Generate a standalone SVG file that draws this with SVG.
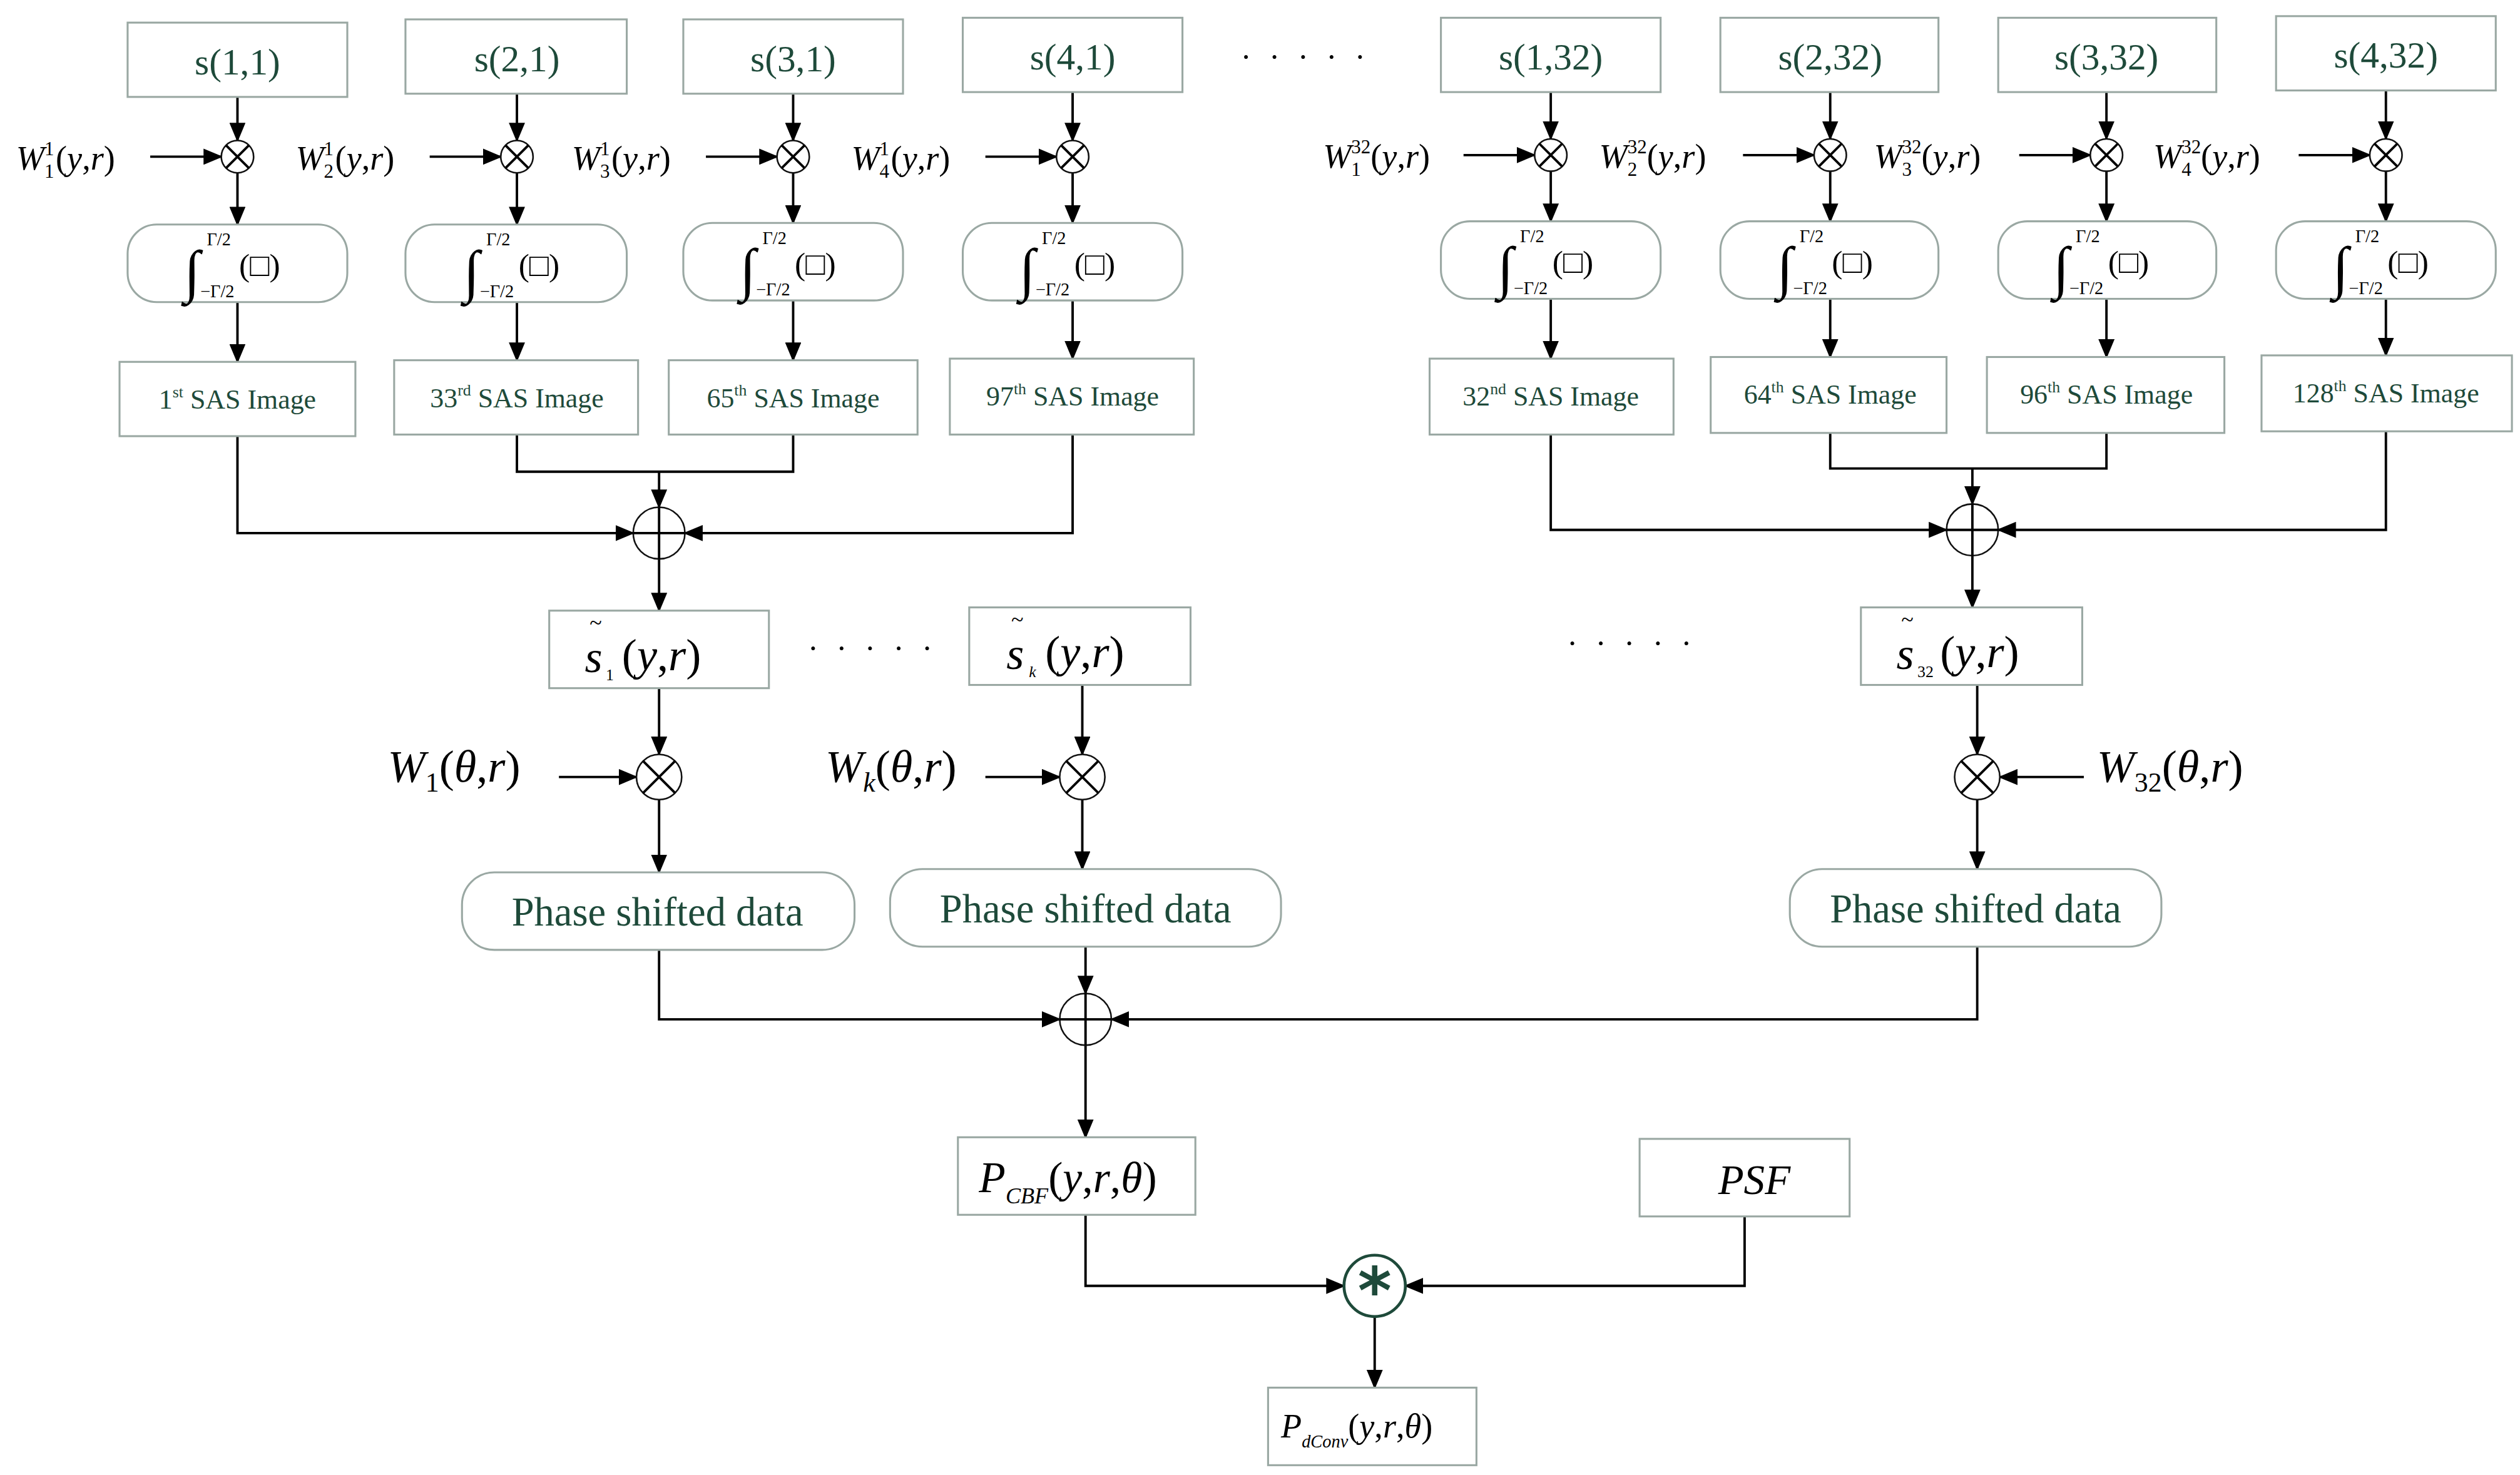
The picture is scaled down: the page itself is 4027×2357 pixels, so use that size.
<svg xmlns="http://www.w3.org/2000/svg" width="4027" height="2357" viewBox="0 0 4027 2357">
<style>
.b{fill:#fff;stroke:#9aa8a3;stroke-width:1.2}
.c{fill:#fff;stroke:#111;stroke-width:1}
.l{fill:none;stroke:#000;stroke-width:1.5}
.g{font-family:"Liberation Serif",serif;fill:#1e4a3a}
.m{font-family:"Liberation Serif",serif;fill:#000}
.i{font-style:italic}
</style>
<defs>
<marker id="a" markerUnits="userSpaceOnUse" markerWidth="12" markerHeight="10" refX="11" refY="5" orient="auto"><path d="M0,0L12,5L0,10z" fill="#000"/></marker>
</defs>
<rect width="4027" height="2357" fill="#fff"/>
<g transform="scale(2.5814)">
<g id="connectors">
<path class="l" marker-end="url(#a)" d="M147,60V87"/><path class="l" marker-end="url(#a)" d="M320,58V87"/><path class="l" marker-end="url(#a)" d="M491,58V87"/><path class="l" marker-end="url(#a)" d="M664,57V87"/>
<path class="l" marker-end="url(#a)" d="M960,57V86"/><path class="l" marker-end="url(#a)" d="M1133,57V86"/><path class="l" marker-end="url(#a)" d="M1304,57V86"/><path class="l" marker-end="url(#a)" d="M1477,56V86"/>
<path class="l" marker-end="url(#a)" d="M93,97H137"/><path class="l" marker-end="url(#a)" d="M266,97H310"/><path class="l" marker-end="url(#a)" d="M437,97H481"/><path class="l" marker-end="url(#a)" d="M610,97H654"/>
<path class="l" marker-end="url(#a)" d="M906,96H950"/><path class="l" marker-end="url(#a)" d="M1079,96H1123"/><path class="l" marker-end="url(#a)" d="M1250,96H1294"/><path class="l" marker-end="url(#a)" d="M1423,96H1467"/>
<path class="l" marker-end="url(#a)" d="M147,107V139"/><path class="l" marker-end="url(#a)" d="M320,107V139"/><path class="l" marker-end="url(#a)" d="M491,107V138"/><path class="l" marker-end="url(#a)" d="M664,107V138"/>
<path class="l" marker-end="url(#a)" d="M960,106V137"/><path class="l" marker-end="url(#a)" d="M1133,106V137"/><path class="l" marker-end="url(#a)" d="M1304,106V137"/><path class="l" marker-end="url(#a)" d="M1477,106V137"/>
<path class="l" marker-end="url(#a)" d="M147,187V224"/><path class="l" marker-end="url(#a)" d="M320,187V223"/><path class="l" marker-end="url(#a)" d="M491,186V223"/><path class="l" marker-end="url(#a)" d="M664,186V222"/>
<path class="l" marker-end="url(#a)" d="M960,185V222"/><path class="l" marker-end="url(#a)" d="M1133,185V221"/><path class="l" marker-end="url(#a)" d="M1304,185V221"/><path class="l" marker-end="url(#a)" d="M1477,185V220"/>
<path class="l" marker-end="url(#a)" d="M147,270V330H392"/>
<path class="l" marker-end="url(#a)" d="M664,269V330H424"/>
<path class="l" d="M320,269V292H491V269"/>
<path class="l" marker-end="url(#a)" d="M408,292V314"/>
<path class="l" marker-end="url(#a)" d="M408,346V378"/>
<path class="l" marker-end="url(#a)" d="M960,269V328H1205"/>
<path class="l" marker-end="url(#a)" d="M1477,267V328H1237"/>
<path class="l" d="M1133,268V290H1304V268"/>
<path class="l" marker-end="url(#a)" d="M1221,290V312"/>
<path class="l" marker-end="url(#a)" d="M1221,344V376"/>
<path class="l" marker-end="url(#a)" d="M408,426V467"/><path class="l" marker-end="url(#a)" d="M670,424V467"/><path class="l" marker-end="url(#a)" d="M1224,424V467"/>
<path class="l" marker-end="url(#a)" d="M346,481H394"/><path class="l" marker-end="url(#a)" d="M610,481H656"/>
<path class="l" marker-end="url(#a)" d="M1290,481H1238"/>
<path class="l" marker-end="url(#a)" d="M408,495V540"/><path class="l" marker-end="url(#a)" d="M670,495V538"/><path class="l" marker-end="url(#a)" d="M1224,495V538"/>
<path class="l" marker-end="url(#a)" d="M408,588V631H656"/>
<path class="l" marker-end="url(#a)" d="M1224,586V631H688"/>
<path class="l" marker-end="url(#a)" d="M672,586V615"/>
<path class="l" marker-end="url(#a)" d="M672,647V704"/>
<path class="l" marker-end="url(#a)" d="M672,752V796H832"/>
<path class="l" marker-end="url(#a)" d="M1080,753V796H870"/>
<path class="l" marker-end="url(#a)" d="M851,815V859"/>
</g>
<g id="s11"><rect class="b" x="79" y="14" width="136" height="46"/><text class="g" x="147" y="46" font-size="23" text-anchor="middle">s(1,1)</text></g>
<g id="s21"><rect class="b" x="251" y="12" width="137" height="46"/><text class="g" x="320" y="44" font-size="23" text-anchor="middle">s(2,1)</text></g>
<g id="s31"><rect class="b" x="423" y="12" width="136" height="46"/><text class="g" x="491" y="44" font-size="23" text-anchor="middle">s(3,1)</text></g>
<g id="s41"><rect class="b" x="596" y="11" width="136" height="46"/><text class="g" x="664" y="43" font-size="23" text-anchor="middle">s(4,1)</text></g>
<g id="s132"><rect class="b" x="892" y="11" width="136" height="46"/><text class="g" x="960" y="43" font-size="23" text-anchor="middle">s(1,32)</text></g>
<g id="s232"><rect class="b" x="1065" y="11" width="135" height="46"/><text class="g" x="1133" y="43" font-size="23" text-anchor="middle">s(2,32)</text></g>
<g id="s332"><rect class="b" x="1237" y="11" width="135" height="46"/><text class="g" x="1304" y="43" font-size="23" text-anchor="middle">s(3,32)</text></g>
<g id="s432"><rect class="b" x="1409" y="10" width="136" height="46"/><text class="g" x="1477" y="42" font-size="23" text-anchor="middle">s(4,32)</text></g>
<text class="m" x="768" y="42" font-size="20" letter-spacing="3">· · · · ·</text>
<g id="mults" class="m">
<g><circle class="c" cx="147" cy="97" r="10"/><path class="l" stroke-width="1" d="M140,90L154,104M154,90L140,104"/></g>
<g><circle class="c" cx="320" cy="97" r="10"/><path class="l" stroke-width="1" d="M313,90L327,104M327,90L313,104"/></g>
<g><circle class="c" cx="491" cy="97" r="10"/><path class="l" stroke-width="1" d="M484,90L498,104M498,90L484,104"/></g>
<g><circle class="c" cx="664" cy="97" r="10"/><path class="l" stroke-width="1" d="M657,90L671,104M671,90L657,104"/></g>
<g><circle class="c" cx="960" cy="96" r="10"/><path class="l" stroke-width="1" d="M953,89L967,103M967,89L953,103"/></g>
<g><circle class="c" cx="1133" cy="96" r="10"/><path class="l" stroke-width="1" d="M1126,89L1140,103M1140,89L1126,103"/></g>
<g><circle class="c" cx="1304" cy="96" r="10"/><path class="l" stroke-width="1" d="M1297,89L1311,103M1311,89L1297,103"/></g>
<g><circle class="c" cx="1477" cy="96" r="10"/><path class="l" stroke-width="1" d="M1470,89L1484,103M1484,89L1470,103"/></g>
</g>
<g class="m" font-size="21">
<text x="10" y="105"><tspan class="i">W</tspan><tspan font-size="12" dy="-9">1</tspan><tspan font-size="12" dx="-6" dy="14">1</tspan><tspan dx="1" dy="-5">(</tspan><tspan class="i">y</tspan>,<tspan class="i">r</tspan>)</text>
<text x="183" y="105"><tspan class="i">W</tspan><tspan font-size="12" dy="-9">1</tspan><tspan font-size="12" dx="-6" dy="14">2</tspan><tspan dx="1" dy="-5">(</tspan><tspan class="i">y</tspan>,<tspan class="i">r</tspan>)</text>
<text x="354" y="105"><tspan class="i">W</tspan><tspan font-size="12" dy="-9">1</tspan><tspan font-size="12" dx="-6" dy="14">3</tspan><tspan dx="1" dy="-5">(</tspan><tspan class="i">y</tspan>,<tspan class="i">r</tspan>)</text>
<text x="527" y="105"><tspan class="i">W</tspan><tspan font-size="12" dy="-9">1</tspan><tspan font-size="12" dx="-6" dy="14">4</tspan><tspan dx="1" dy="-5">(</tspan><tspan class="i">y</tspan>,<tspan class="i">r</tspan>)</text>
<text x="819" y="104"><tspan class="i">W</tspan><tspan font-size="12" dy="-9">32</tspan><tspan font-size="12" dx="-12" dy="14">1</tspan><tspan dx="6" dy="-5">(</tspan><tspan class="i">y</tspan>,<tspan class="i">r</tspan>)</text>
<text x="990" y="104"><tspan class="i">W</tspan><tspan font-size="12" dy="-9">32</tspan><tspan font-size="12" dx="-12" dy="14">2</tspan><tspan dx="6" dy="-5">(</tspan><tspan class="i">y</tspan>,<tspan class="i">r</tspan>)</text>
<text x="1160" y="104"><tspan class="i">W</tspan><tspan font-size="12" dy="-9">32</tspan><tspan font-size="12" dx="-12" dy="14">3</tspan><tspan dx="6" dy="-5">(</tspan><tspan class="i">y</tspan>,<tspan class="i">r</tspan>)</text>
<text x="1333" y="104"><tspan class="i">W</tspan><tspan font-size="12" dy="-9">32</tspan><tspan font-size="12" dx="-12" dy="14">4</tspan><tspan dx="6" dy="-5">(</tspan><tspan class="i">y</tspan>,<tspan class="i">r</tspan>)</text>
</g>
<g id="integrals" class="m">
<g><rect class="b" x="79" y="139" width="136" height="48" rx="18"/><text x="114" y="180" font-size="36">∫</text><text x="128" y="152" font-size="11">Γ/2</text><text x="124" y="184" font-size="11">−Γ/2</text><text x="148" y="171" font-size="20">(□)</text></g>
<g><rect class="b" x="251" y="139" width="137" height="48" rx="18"/><text x="287" y="180" font-size="36">∫</text><text x="301" y="152" font-size="11">Γ/2</text><text x="297" y="184" font-size="11">−Γ/2</text><text x="321" y="171" font-size="20">(□)</text></g>
<g><rect class="b" x="423" y="138" width="136" height="48" rx="18"/><text x="458" y="179" font-size="36">∫</text><text x="472" y="151" font-size="11">Γ/2</text><text x="468" y="183" font-size="11">−Γ/2</text><text x="492" y="170" font-size="20">(□)</text></g>
<g><rect class="b" x="596" y="138" width="136" height="48" rx="18"/><text x="631" y="179" font-size="36">∫</text><text x="645" y="151" font-size="11">Γ/2</text><text x="641" y="183" font-size="11">−Γ/2</text><text x="665" y="170" font-size="20">(□)</text></g>
<g><rect class="b" x="892" y="137" width="136" height="48" rx="18"/><text x="927" y="178" font-size="36">∫</text><text x="941" y="150" font-size="11">Γ/2</text><text x="937" y="182" font-size="11">−Γ/2</text><text x="961" y="169" font-size="20">(□)</text></g>
<g><rect class="b" x="1065" y="137" width="135" height="48" rx="18"/><text x="1100" y="178" font-size="36">∫</text><text x="1114" y="150" font-size="11">Γ/2</text><text x="1110" y="182" font-size="11">−Γ/2</text><text x="1134" y="169" font-size="20">(□)</text></g>
<g><rect class="b" x="1237" y="137" width="135" height="48" rx="18"/><text x="1271" y="178" font-size="36">∫</text><text x="1285" y="150" font-size="11">Γ/2</text><text x="1281" y="182" font-size="11">−Γ/2</text><text x="1305" y="169" font-size="20">(□)</text></g>
<g><rect class="b" x="1409" y="137" width="136" height="48" rx="18"/><text x="1444" y="178" font-size="36">∫</text><text x="1458" y="150" font-size="11">Γ/2</text><text x="1454" y="182" font-size="11">−Γ/2</text><text x="1478" y="169" font-size="20">(□)</text></g>
</g>
<g class="g" font-size="17" text-anchor="middle">
<g id="sas1"><rect class="b" x="74" y="224" width="146" height="46"/><text x="147" y="253">1<tspan font-size="10" dy="-7">st</tspan><tspan dy="7"> SAS Image</tspan></text></g>
<g id="sas33"><rect class="b" x="244" y="223" width="151" height="46"/><text x="320" y="252">33<tspan font-size="10" dy="-7">rd</tspan><tspan dy="7"> SAS Image</tspan></text></g>
<g id="sas65"><rect class="b" x="414" y="223" width="154" height="46"/><text x="491" y="252">65<tspan font-size="10" dy="-7">th</tspan><tspan dy="7"> SAS Image</tspan></text></g>
<g id="sas97"><rect class="b" x="588" y="222" width="151" height="47"/><text x="664" y="251">97<tspan font-size="10" dy="-7">th</tspan><tspan dy="7"> SAS Image</tspan></text></g>
<g id="sas32"><rect class="b" x="885" y="222" width="151" height="47"/><text x="960" y="251">32<tspan font-size="10" dy="-7">nd</tspan><tspan dy="7"> SAS Image</tspan></text></g>
<g id="sas64"><rect class="b" x="1059" y="221" width="146" height="47"/><text x="1133" y="250">64<tspan font-size="10" dy="-7">th</tspan><tspan dy="7"> SAS Image</tspan></text></g>
<g id="sas96"><rect class="b" x="1230" y="221" width="147" height="47"/><text x="1304" y="250">96<tspan font-size="10" dy="-7">th</tspan><tspan dy="7"> SAS Image</tspan></text></g>
<g id="sas128"><rect class="b" x="1400" y="220" width="155" height="47"/><text x="1477" y="249">128<tspan font-size="10" dy="-7">th</tspan><tspan dy="7"> SAS Image</tspan></text></g>
</g>
<g id="sum1"><circle class="c" cx="408" cy="330" r="16"/><path class="l" stroke-width="1" d="M392,330H424M408,314V346"/></g>
<g id="sum2"><circle class="c" cx="1221" cy="328" r="16"/><path class="l" stroke-width="1" d="M1205,328H1237M1221,312V344"/></g>
<g id="st1" class="m"><rect class="b" x="340" y="378" width="136" height="48"/><text x="365" y="390" font-size="14">~</text><text x="362" y="416" font-size="28" class="i">s</text><text x="375" y="421" font-size="10">1</text><text x="385" y="415" font-size="28">(<tspan class="i">y</tspan>,<tspan class="i">r</tspan>)</text></g>
<g id="stk" class="m"><rect class="b" x="600" y="376" width="137" height="48"/><text x="626" y="388" font-size="14">~</text><text x="623" y="414" font-size="28" class="i">s</text><text x="637" y="419" font-size="10" class="i">k</text><text x="647" y="413" font-size="28">(<tspan class="i">y</tspan>,<tspan class="i">r</tspan>)</text></g>
<g id="st32" class="m"><rect class="b" x="1152" y="376" width="137" height="48"/><text x="1177" y="388" font-size="14">~</text><text x="1174" y="414" font-size="28" class="i">s</text><text x="1187" y="419" font-size="10">32</text><text x="1201" y="413" font-size="28">(<tspan class="i">y</tspan>,<tspan class="i">r</tspan>)</text></g>
<text class="m" x="500" y="408" font-size="20" letter-spacing="3">· · · · ·</text>
<text class="m" x="970" y="405" font-size="20" letter-spacing="3">· · · · ·</text>
<g id="m1"><circle class="c" cx="408" cy="481" r="14"/><path class="l" stroke-width="1" d="M398,471L418,491M418,471L398,491"/></g>
<g id="mk"><circle class="c" cx="670" cy="481" r="14"/><path class="l" stroke-width="1" d="M660,471L680,491M680,471L660,491"/></g>
<g id="m32"><circle class="c" cx="1224" cy="481" r="14"/><path class="l" stroke-width="1" d="M1214,471L1234,491M1234,471L1214,491"/></g>
<g class="m" font-size="28">
<text x="240" y="484"><tspan class="i">W</tspan><tspan font-size="17" dy="6">1</tspan><tspan dy="-6">(</tspan><tspan class="i">θ</tspan>,<tspan class="i">r</tspan>)</text>
<text x="511" y="484"><tspan class="i">W</tspan><tspan font-size="17" dy="6" class="i">k</tspan><tspan dy="-6">(</tspan><tspan class="i">θ</tspan>,<tspan class="i">r</tspan>)</text>
<text x="1298" y="484"><tspan class="i">W</tspan><tspan font-size="17" dy="6">32</tspan><tspan dy="-6">(</tspan><tspan class="i">θ</tspan>,<tspan class="i">r</tspan>)</text>
</g>
<g class="g" font-size="25" text-anchor="middle">
<g id="ps1"><rect class="b" x="286" y="540" width="243" height="48" rx="20"/><text x="407" y="573">Phase shifted data</text></g>
<g id="psk"><rect class="b" x="551" y="538" width="242" height="48" rx="20"/><text x="672" y="571">Phase shifted data</text></g>
<g id="ps32"><rect class="b" x="1108" y="538" width="230" height="48" rx="20"/><text x="1223" y="571">Phase shifted data</text></g>
</g>
<g id="sum3"><circle class="c" cx="672" cy="631" r="16"/><path class="l" stroke-width="1" d="M656,631H688M672,615V647"/></g>
<g id="pcbf" class="m"><rect class="b" x="593" y="704" width="147" height="48"/><text x="606" y="738" font-size="27" class="i">P<tspan font-size="14" dy="7">CBF</tspan><tspan dy="-7" font-style="normal">(</tspan>y<tspan font-style="normal">,</tspan>r<tspan font-style="normal">,</tspan>θ<tspan font-style="normal">)</tspan></text></g>
<g id="psf" class="m"><rect class="b" x="1015" y="705" width="130" height="48"/><text x="1086" y="739" font-size="26" class="i" text-anchor="middle">PSF</text></g>
<g id="conv"><circle cx="851" cy="796" r="19" fill="#fff" stroke="#1e4a3a" stroke-width="1.8"/><text x="851" y="813" font-size="40" font-family="DejaVu Sans,sans-serif" font-weight="bold" fill="#1e4a3a" text-anchor="middle">*</text></g>
<g id="pdconv" class="m"><rect class="b" x="785" y="859" width="129" height="48"/><text x="793" y="890" font-size="21" class="i">P<tspan font-size="11" dy="6">dConv</tspan><tspan dy="-6" font-style="normal">(</tspan>y<tspan font-style="normal">,</tspan>r<tspan font-style="normal">,</tspan>θ<tspan font-style="normal">)</tspan></text></g>
</g>
</svg>
